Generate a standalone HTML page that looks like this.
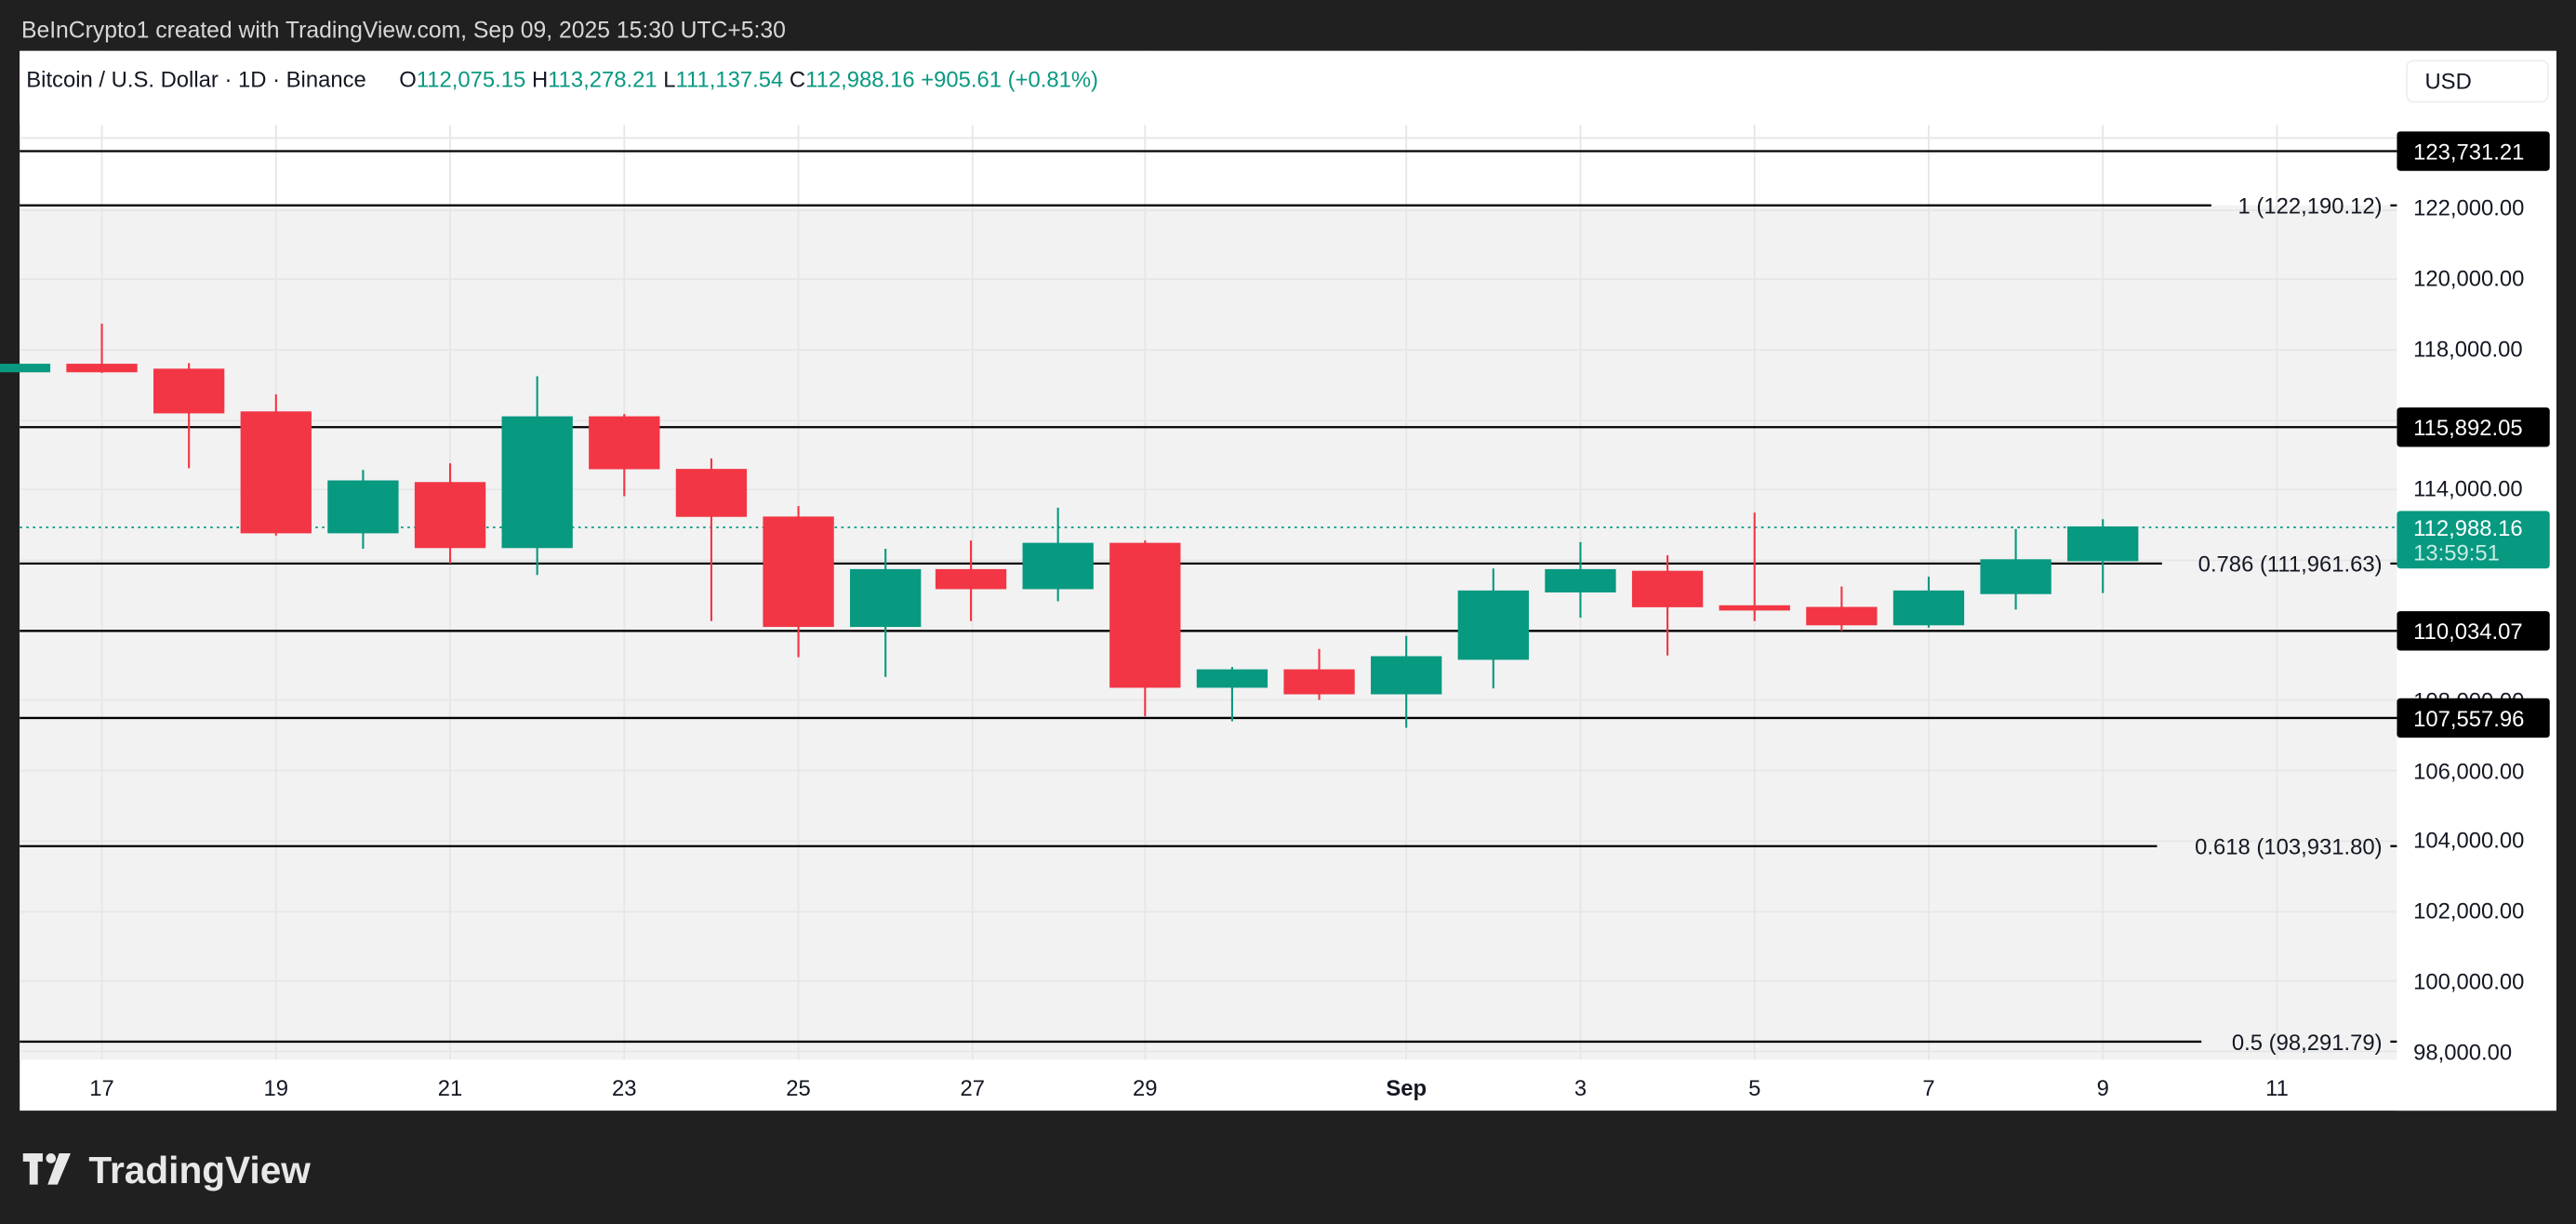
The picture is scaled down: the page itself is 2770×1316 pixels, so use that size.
<!DOCTYPE html>
<html><head><meta charset="utf-8"><style>
html,body{margin:0;padding:0;background:#202020;}
svg{display:block;}
text{font-family:"Liberation Sans",sans-serif;}
</style></head><body>
<svg width="2770" height="1316" viewBox="0 0 1568 745" preserveAspectRatio="none" xmlns="http://www.w3.org/2000/svg">
<rect x="0" y="0" width="1568" height="745" fill="#202020"/>
<text x="13" y="23" font-size="14" fill="#d8d8d8">BeInCrypto1 created with TradingView.com, Sep 09, 2025 15:30 UTC+5:30</text>
<rect x="12" y="31" width="1544" height="645" fill="#ffffff"/>
<rect x="12" y="125" width="1447" height="520" fill="#f2f2f2"/>
<g stroke="#e6e6e6" stroke-width="1">
<line x1="12" y1="84" x2="1459" y2="84"/>
<line x1="12" y1="128" x2="1459" y2="128"/>
<line x1="12" y1="170" x2="1459" y2="170"/>
<line x1="12" y1="213" x2="1459" y2="213"/>
<line x1="12" y1="256" x2="1459" y2="256"/>
<line x1="12" y1="298" x2="1459" y2="298"/>
<line x1="12" y1="341" x2="1459" y2="341"/>
<line x1="12" y1="384" x2="1459" y2="384"/>
<line x1="12" y1="426" x2="1459" y2="426"/>
<line x1="12" y1="469" x2="1459" y2="469"/>
<line x1="12" y1="512" x2="1459" y2="512"/>
<line x1="12" y1="555" x2="1459" y2="555"/>
<line x1="12" y1="597" x2="1459" y2="597"/>
<line x1="12" y1="640" x2="1459" y2="640"/>
<line x1="62" y1="31" x2="62" y2="645"/><line x1="168" y1="31" x2="168" y2="645"/>
<line x1="274" y1="31" x2="274" y2="645"/><line x1="380" y1="31" x2="380" y2="645"/>
<line x1="486" y1="31" x2="486" y2="645"/><line x1="592" y1="31" x2="592" y2="645"/>
<line x1="697" y1="31" x2="697" y2="645"/><line x1="856" y1="31" x2="856" y2="645"/>
<line x1="962" y1="31" x2="962" y2="645"/><line x1="1068" y1="31" x2="1068" y2="645"/>
<line x1="1174" y1="31" x2="1174" y2="645"/><line x1="1280" y1="31" x2="1280" y2="645"/>
<line x1="1386" y1="31" x2="1386" y2="645"/>
</g>
<rect x="12" y="31" width="1447" height="45" fill="#ffffff"/>
<text x="16" y="53" font-size="13.5" fill="#131722">Bitcoin / U.S. Dollar · 1D · Binance</text>
<text x="243" y="53" font-size="13.5" fill="#131722">O<tspan fill="#089981">112,075.15</tspan>  H<tspan fill="#089981">113,278.21</tspan>  L<tspan fill="#089981">111,137.54</tspan>  C<tspan fill="#089981">112,988.16  +905.61 (+0.81%)</tspan></text>
<g stroke="#000" stroke-width="1.3">
<line x1="12" y1="92" x2="1459" y2="92"/>
<line x1="12" y1="125" x2="1346" y2="125"/><line x1="1455" y1="125" x2="1459" y2="125"/>
<line x1="12" y1="260" x2="1459" y2="260"/>
<line x1="12" y1="343" x2="1316" y2="343"/><line x1="1455" y1="343" x2="1459" y2="343"/>
<line x1="12" y1="384" x2="1459" y2="384"/>
<line x1="12" y1="437" x2="1459" y2="437"/>
<line x1="12" y1="515" x2="1313" y2="515"/><line x1="1455" y1="515" x2="1459" y2="515"/>
<line x1="12" y1="634" x2="1340" y2="634"/><line x1="1455" y1="634" x2="1459" y2="634"/>
</g>
<g font-size="13.5" fill="#131722" text-anchor="end">
<text x="1450" y="130">1 (122,190.12)</text>
<text x="1450" y="348">0.786 (111,961.63)</text>
<text x="1450" y="520">0.618 (103,931.80)</text>
<text x="1450" y="639">0.5 (98,291.79)</text>
</g>
<line x1="12" y1="321" x2="1459" y2="321" stroke="#089981" stroke-width="1" stroke-dasharray="1.5,2.5"/>
<g stroke-width="1.2">
<g stroke="#089981" fill="#089981"><rect x="0" y="222" width="30" height="4"/></g>
<g stroke="#f23645" fill="#f23645">
<line x1="62" y1="197" x2="62" y2="227"/><rect x="41" y="222" width="42" height="4"/>
<line x1="115" y1="221" x2="115" y2="285"/><rect x="94" y="225" width="42" height="26"/>
<line x1="168" y1="240" x2="168" y2="326"/><rect x="147" y="251" width="42" height="73"/>
<line x1="274" y1="282" x2="274" y2="343"/><rect x="253" y="294" width="42" height="39"/>
<line x1="380" y1="252" x2="380" y2="302"/><rect x="359" y="254" width="42" height="31"/>
<line x1="433" y1="279" x2="433" y2="378"/><rect x="412" y="286" width="42" height="28"/>
<line x1="486" y1="308" x2="486" y2="400"/><rect x="465" y="315" width="42" height="66"/>
<line x1="591" y1="329" x2="591" y2="378"/><rect x="570" y="347" width="42" height="11"/>
<line x1="697" y1="329" x2="697" y2="436"/><rect x="676" y="331" width="42" height="87"/>
<line x1="803" y1="395" x2="803" y2="426"/><rect x="782" y="408" width="42" height="14"/>
<line x1="1015" y1="338" x2="1015" y2="399"/><rect x="994" y="348" width="42" height="21"/>
<line x1="1068" y1="312" x2="1068" y2="378"/><rect x="1047" y="369" width="42" height="2"/>
<line x1="1121" y1="357" x2="1121" y2="384"/><rect x="1100" y="370" width="42" height="10"/>
</g>
<g stroke="#089981" fill="#089981">
<line x1="221" y1="286" x2="221" y2="334"/><rect x="200" y="293" width="42" height="31"/>
<line x1="327" y1="229" x2="327" y2="350"/><rect x="306" y="254" width="42" height="79"/>
<line x1="539" y1="334" x2="539" y2="412"/><rect x="518" y="347" width="42" height="34"/>
<line x1="644" y1="309" x2="644" y2="366"/><rect x="623" y="331" width="42" height="27"/>
<line x1="750" y1="406" x2="750" y2="439"/><rect x="729" y="408" width="42" height="10"/>
<line x1="856" y1="387" x2="856" y2="443"/><rect x="835" y="400" width="42" height="22"/>
<line x1="909" y1="346" x2="909" y2="419"/><rect x="888" y="360" width="42" height="41"/>
<line x1="962" y1="330" x2="962" y2="376"/><rect x="941" y="347" width="42" height="13"/>
<line x1="1174" y1="351" x2="1174" y2="382"/><rect x="1153" y="360" width="42" height="20"/>
<line x1="1227" y1="322" x2="1227" y2="371"/><rect x="1206" y="341" width="42" height="20"/>
<line x1="1280" y1="316" x2="1280" y2="361"/><rect x="1259" y="321" width="42" height="20"/>
</g>
</g>
<rect x="1459" y="31" width="97" height="645" fill="#fff"/>
<rect x="1465" y="37" width="86" height="25" rx="4" fill="#fff" stroke="#eeeeee"/>
<text x="1476" y="54" font-size="13.5" fill="#131722">USD</text>
<g font-size="13.5" fill="#131722">
<text x="1469" y="174">120,000.00</text>
<text x="1469" y="217">118,000.00</text>
<text x="1469" y="302">114,000.00</text>
<text x="1469" y="431">108,000.00</text>
<text x="1469" y="474">106,000.00</text>
<text x="1469" y="516">104,000.00</text>
<text x="1469" y="559">102,000.00</text>
<text x="1469" y="602">100,000.00</text>
<text x="1469" y="645">98,000.00</text>
<text x="1469" y="131">122,000.00</text>
</g>
<g font-size="13.5" fill="#ffffff">
<rect x="1459" y="80" width="93" height="24" rx="2" fill="#000"/><text x="1469" y="97">123,731.21</text>
<rect x="1459" y="248" width="93" height="24" rx="2" fill="#000"/><text x="1469" y="265">115,892.05</text>
<rect x="1459" y="372" width="93" height="24" rx="2" fill="#000"/><text x="1469" y="389">110,034.07</text>
<rect x="1459" y="425" width="93" height="24" rx="2" fill="#000"/><text x="1469" y="442">107,557.96</text>
<rect x="1459" y="311" width="93" height="35" rx="2" fill="#089981"/><text x="1469" y="326">112,988.16</text>
<text x="1469" y="341" fill="#c8ece5">13:59:51</text>
</g>
<g font-size="13.5" fill="#131722" text-anchor="middle">
<text x="62" y="667">17</text><text x="168" y="667">19</text><text x="274" y="667">21</text>
<text x="380" y="667">23</text><text x="486" y="667">25</text><text x="592" y="667">27</text>
<text x="697" y="667">29</text><text x="856" y="667" font-weight="bold">Sep</text>
<text x="962" y="667">3</text><text x="1068" y="667">5</text><text x="1174" y="667">7</text>
<text x="1280" y="667">9</text><text x="1386" y="667">11</text>
</g>
<g fill="#e8e8e8">
<rect x="14" y="702" width="12" height="5"/><rect x="18" y="702" width="5" height="19"/>
<circle cx="31" cy="705" r="3"/><polygon points="36,702 43,702 35,721 29,721"/>
</g>
<text x="54" y="720" font-size="23" font-weight="bold" fill="#e8e8e8">TradingView</text>
</svg>
</body></html>
